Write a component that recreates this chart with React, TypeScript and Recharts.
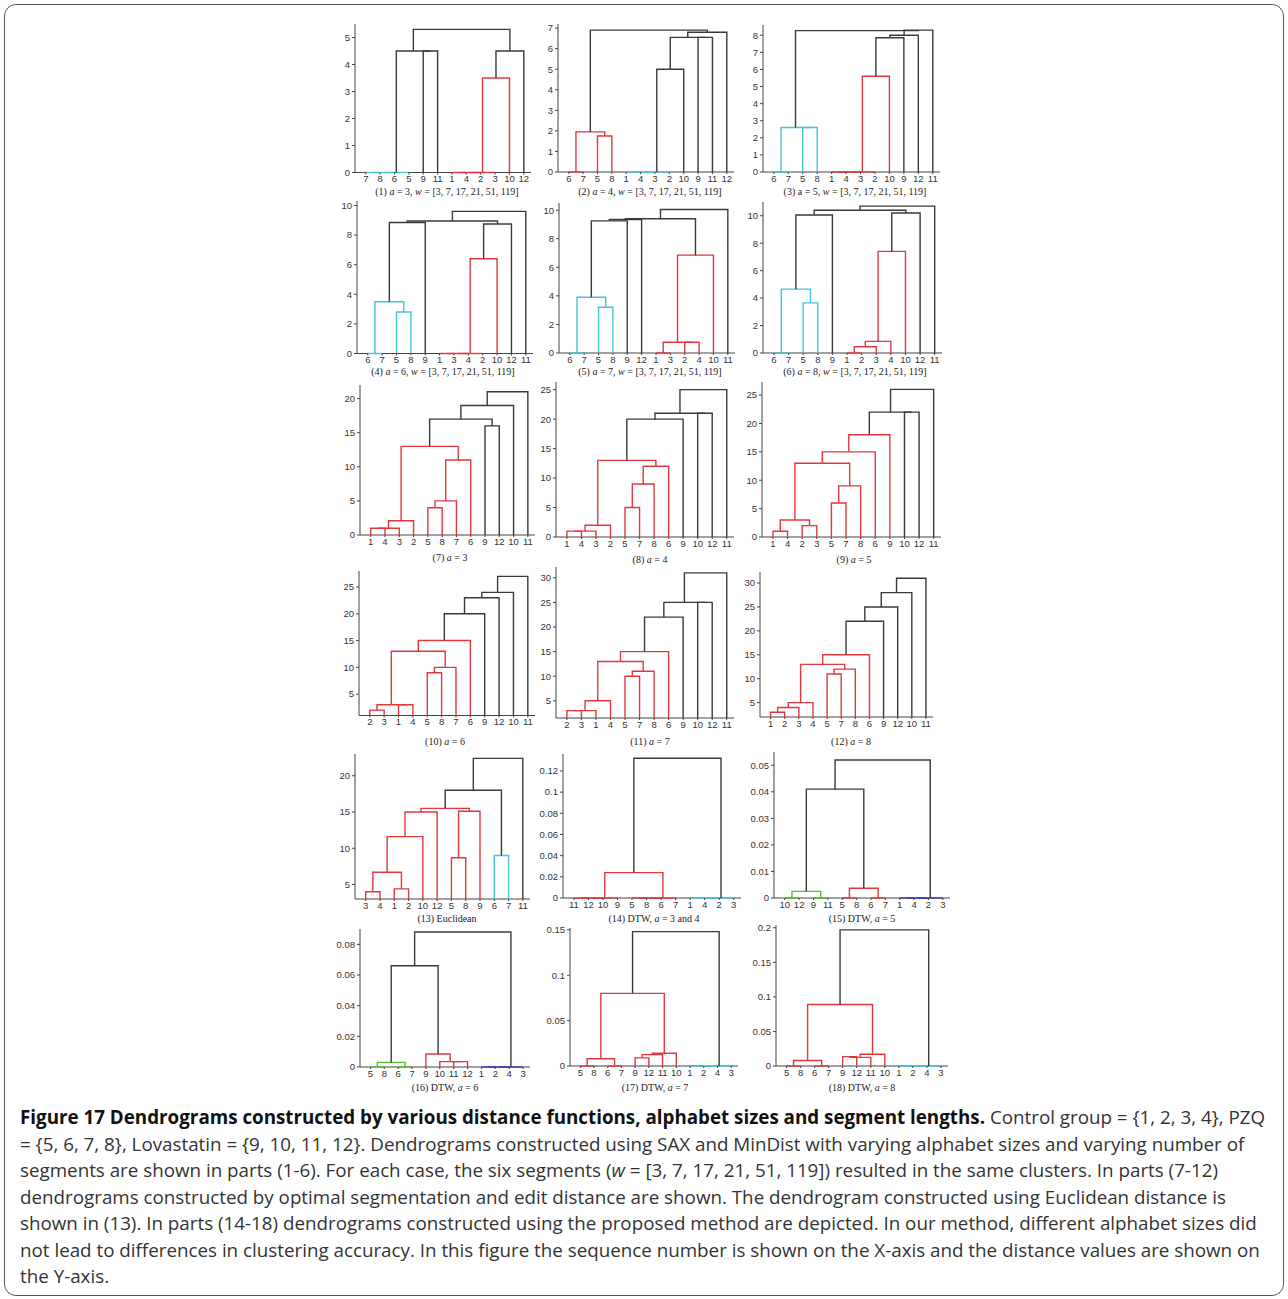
import React from 'react';
import { LineChart, Line, XAxis, YAxis } from 'recharts';

// [left child, right child, height, colour]; children 1..12 are leaves, 13+ are earlier merges
type Link = [number, number, number, string];

const order1 = [7, 8, 6, 5, 9, 11, 1, 4, 2, 3, 10, 12];
const links1: Link[] = [
  [7, 8, 0, 'c'], [13, 6, 0, 'c'], [14, 5, 0, 'c'], [1, 4, 0, 'r'], [16, 2, 0, 'r'], [17, 3, 0, 'r'],
  [18, 10, 3.5, 'r'], [9, 11, 4.5, 'k'], [15, 20, 4.5, 'k'], [19, 12, 4.5, 'k'], [21, 22, 5.3, 'k'],
];
const order2 = [6, 7, 5, 8, 1, 4, 3, 2, 10, 9, 11, 12];
const links2: Link[] = [
  [6, 7, 0, 'r'], [5, 8, 1.75, 'r'], [13, 14, 1.95, 'r'], [1, 4, 0, 'c'], [16, 3, 0, 'c'], [17, 2, 0, 'c'],
  [18, 10, 5.0, 'k'], [9, 11, 6.55, 'k'], [19, 20, 6.55, 'k'], [21, 12, 6.8, 'k'], [15, 22, 6.9, 'k'],
];
const order3 = [6, 7, 5, 8, 1, 4, 3, 2, 10, 9, 12, 11];
const links3: Link[] = [
  [6, 7, 0, 'c'], [5, 8, 2.6, 'c'], [13, 14, 2.6, 'c'], [1, 4, 0, 'r'], [16, 3, 0, 'r'], [17, 2, 0, 'r'],
  [18, 10, 5.6, 'r'], [19, 9, 7.85, 'k'], [20, 12, 8.0, 'k'], [21, 11, 8.3, 'k'], [15, 22, 8.27, 'k'],
];
const order4 = [6, 7, 5, 8, 9, 1, 3, 4, 2, 10, 12, 11];
const links4: Link[] = [
  [6, 7, 0, 'c'], [5, 8, 2.8, 'c'], [13, 14, 3.5, 'c'], [15, 9, 8.85, 'k'], [1, 3, 0, 'r'], [17, 4, 0, 'r'],
  [18, 2, 0, 'r'], [19, 10, 6.4, 'r'], [20, 12, 8.75, 'k'], [16, 21, 8.95, 'k'], [22, 11, 9.6, 'k'],
];
const order5 = [6, 7, 5, 8, 9, 12, 1, 3, 2, 4, 10, 11];
const links5: Link[] = [
  [6, 7, 0, 'c'], [5, 8, 3.2, 'c'], [13, 14, 3.9, 'c'], [15, 9, 9.25, 'k'], [16, 12, 9.35, 'k'], [1, 3, 0, 'r'],
  [2, 4, 0.75, 'r'], [18, 19, 0.75, 'r'], [20, 10, 6.85, 'r'], [17, 21, 9.4, 'k'], [22, 11, 10.05, 'k'],
];
const order6 = [6, 7, 5, 8, 9, 1, 2, 3, 4, 10, 12, 11];
const links6: Link[] = [
  [6, 7, 0, 'c'], [5, 8, 3.65, 'c'], [13, 14, 4.65, 'c'], [15, 9, 10.05, 'k'], [1, 2, 0, 'r'], [17, 3, 0.45, 'r'],
  [18, 4, 0.85, 'r'], [19, 10, 7.4, 'r'], [20, 12, 10.2, 'k'], [16, 21, 10.4, 'k'], [22, 11, 10.7, 'k'],
];
const order7 = [1, 4, 3, 2, 5, 8, 7, 6, 9, 12, 10, 11];
const links7: Link[] = [
  [1, 4, 1, 'r'], [13, 3, 1, 'r'], [14, 2, 2.1, 'r'], [5, 8, 4, 'r'], [16, 7, 5, 'r'], [17, 6, 11, 'r'],
  [15, 18, 13, 'r'], [9, 12, 16, 'k'], [19, 20, 17, 'k'], [21, 10, 19, 'k'], [22, 11, 21, 'k'],
];
const order8 = [1, 4, 3, 2, 5, 7, 8, 6, 9, 10, 12, 11];
const links8: Link[] = [
  [1, 4, 1, 'r'], [13, 3, 1, 'r'], [14, 2, 2, 'r'], [5, 7, 5, 'r'], [16, 8, 9, 'r'], [17, 6, 12, 'r'],
  [15, 18, 13, 'r'], [19, 9, 20, 'k'], [10, 12, 21, 'k'], [20, 21, 21, 'k'], [22, 11, 25, 'k'],
];
const order9 = [1, 4, 2, 3, 5, 7, 8, 6, 9, 10, 12, 11];
const links9: Link[] = [
  [1, 4, 1, 'r'], [2, 3, 2, 'r'], [13, 14, 3, 'r'], [5, 7, 6, 'r'], [16, 8, 9, 'r'], [15, 17, 13, 'r'],
  [18, 6, 15, 'r'], [19, 9, 18, 'r'], [10, 12, 22, 'k'], [20, 21, 22, 'k'], [22, 11, 26, 'k'],
];
const order10 = [2, 3, 1, 4, 5, 8, 7, 6, 9, 12, 10, 11];
const links10: Link[] = [
  [2, 3, 2, 'r'], [1, 4, 3, 'r'], [13, 14, 3, 'r'], [5, 8, 9, 'r'], [16, 7, 10, 'r'], [15, 17, 13, 'r'],
  [18, 6, 15, 'r'], [19, 9, 20, 'k'], [20, 12, 23, 'k'], [21, 10, 24, 'k'], [22, 11, 27, 'k'],
];
const order11 = [2, 3, 1, 4, 5, 7, 8, 6, 9, 10, 12, 11];
const links11: Link[] = [
  [2, 3, 3, 'r'], [13, 1, 3, 'r'], [14, 4, 5, 'r'], [5, 7, 10, 'r'], [16, 8, 11, 'r'], [15, 17, 13, 'r'],
  [18, 6, 15, 'r'], [19, 9, 22, 'k'], [10, 12, 25, 'k'], [20, 21, 25, 'k'], [22, 11, 31, 'k'],
];
const order12 = [1, 2, 3, 4, 5, 7, 8, 6, 9, 12, 10, 11];
const links12: Link[] = [
  [1, 2, 3, 'r'], [13, 3, 4, 'r'], [14, 4, 5, 'r'], [5, 7, 11, 'r'], [16, 8, 12, 'r'], [15, 17, 13, 'r'],
  [18, 6, 15, 'r'], [19, 9, 22, 'k'], [20, 12, 25, 'k'], [21, 10, 28, 'k'], [22, 11, 31, 'k'],
];
const order13 = [3, 4, 1, 2, 10, 12, 5, 8, 9, 6, 7, 11];
const links13: Link[] = [
  [3, 4, 4, 'r'], [1, 2, 4.4, 'r'], [13, 14, 6.7, 'r'], [15, 10, 11.6, 'r'], [16, 12, 15, 'r'], [5, 8, 8.7, 'r'],
  [18, 9, 15.1, 'r'], [17, 19, 15.5, 'r'], [6, 7, 9, 'c'], [20, 21, 18, 'k'], [22, 11, 22.4, 'k'],
];
const order14 = [11, 12, 10, 9, 5, 8, 6, 7, 1, 4, 2, 3];
const links14: Link[] = [
  [11, 12, 0, 'r'], [13, 10, 0, 'r'], [14, 9, 0, 'r'], [5, 8, 0, 'r'], [16, 6, 0, 'r'], [17, 7, 0, 'r'],
  [15, 18, 0.024, 'r'], [1, 4, 0, 'c'], [20, 2, 0, 'c'], [21, 3, 0, 'c'], [19, 22, 0.132, 'k'],
];
const order15 = [10, 12, 9, 11, 5, 8, 6, 7, 1, 4, 2, 3];
const links15: Link[] = [
  [10, 12, 0, 'g'], [9, 11, 0, 'g'], [13, 14, 0.0025, 'g'], [5, 8, 0, 'r'], [6, 7, 0, 'r'], [16, 17, 0.0037, 'r'],
  [1, 4, 0, 'b'], [19, 2, 0, 'b'], [20, 3, 0, 'b'], [15, 18, 0.041, 'k'], [22, 21, 0.052, 'k'],
];
const order16 = [5, 8, 6, 7, 9, 10, 11, 12, 1, 2, 4, 3];
const links16: Link[] = [
  [5, 8, 0, 'g'], [6, 7, 0, 'g'], [13, 14, 0.003, 'g'], [11, 12, 0.0035, 'r'], [10, 16, 0.0035, 'r'], [9, 17, 0.0085, 'r'],
  [1, 2, 0, 'b'], [19, 4, 0, 'b'], [20, 3, 0, 'b'], [15, 18, 0.066, 'k'], [22, 21, 0.088, 'k'],
];
const order17 = [5, 8, 6, 7, 9, 12, 11, 10, 1, 2, 4, 3];
const links17: Link[] = [
  [5, 8, 0, 'r'], [6, 7, 0, 'r'], [13, 14, 0.008, 'r'], [9, 12, 0.009, 'r'], [16, 11, 0.0125, 'r'], [17, 10, 0.014, 'r'],
  [15, 18, 0.08, 'r'], [1, 2, 0, 'c'], [20, 4, 0, 'c'], [21, 3, 0, 'c'], [19, 22, 0.148, 'k'],
];
const order18 = [5, 8, 6, 7, 9, 12, 11, 10, 1, 2, 4, 3];
const links18: Link[] = [
  [5, 8, 0, 'r'], [6, 7, 0, 'r'], [13, 14, 0.008, 'r'], [9, 12, 0.0135, 'r'], [16, 11, 0.0125, 'r'], [17, 10, 0.017, 'r'],
  [15, 18, 0.089, 'r'], [1, 2, 0, 'c'], [20, 4, 0, 'c'], [21, 3, 0, 'c'], [19, 22, 0.197, 'k'],
];

const ticksA = [0, 1, 2, 3, 4, 5];
const ticksB = [0, 1, 2, 3, 4, 5, 6, 7];
const ticksC = [0, 1, 2, 3, 4, 5, 6, 7, 8];
const ticksD = [0, 2, 4, 6, 8, 10];
const ticksE = [0, 5, 10, 15, 20];
const ticksF = [0, 5, 10, 15, 20, 25];
const ticksG = [5, 10, 15, 20, 25];
const ticksH = [5, 10, 15, 20, 25, 30];
const ticksI = [5, 10, 15, 20];
const ticksJ = [0, 0.02, 0.04, 0.06, 0.08, 0.1, 0.12];
const ticksK = [0, 0.01, 0.02, 0.03, 0.04, 0.05];
const ticksL = [0, 0.02, 0.04, 0.06, 0.08];
const ticksM = [0, 0.05, 0.1, 0.15];
const ticksN = [0, 0.05, 0.1, 0.15, 0.2];

const W_LIST = ', w = [3, 7, 17, 21, 51, 119]';
const captions = [
  '(1) a = 3' + W_LIST, '(2) a = 4' + W_LIST, '(3) A = 5' + W_LIST,
  '(4) a = 6' + W_LIST, '(5) a = 7' + W_LIST, '(6) a = 8' + W_LIST,
  '(7) a = 3', '(8) a = 4', '(9) a = 5',
  '(10) a = 6', '(11) a = 7', '(12) a = 8',
  '(13) Euclidean', '(14) DTW, a = 3 and 4', '(15) DTW, a = 5',
  '(16) DTW, a = 6', '(17) DTW, a = 7', '(18) DTW, a = 8',
];

const COLORS: Record<string, string> = {
  r: '#e2383c',
  c: '#46c5d5',
  k: '#3a3a3a',
  g: '#4fc234',
  b: '#3a3ab8',
};

const X_DOMAIN = [0.25, 12.5];

// layout: axis left/right, axis top, baseline, caption centre
const panels = [
  { order: order1, links: links1, dom: [0, 5.5], ticks: ticksA, L: 355, R: 531, T: 23.5, B: 172, cx: 447, cy: 192 },
  { order: order2, links: links2, dom: [0, 7.2], ticks: ticksB, L: 558, R: 734, T: 24, B: 172, cx: 650, cy: 192 },
  { order: order3, links: links3, dom: [0, 8.6], ticks: ticksC, L: 763, R: 940, T: 25, B: 172, cx: 855, cy: 192 },
  { order: order4, links: links4, dom: [0, 10.3], ticks: ticksD, L: 357, R: 533, T: 200.5, B: 353, cx: 443, cy: 372 },
  { order: order5, links: links5, dom: [0, 10.5], ticks: ticksD, L: 559, R: 735, T: 203, B: 353, cx: 650, cy: 372 },
  { order: order6, links: links6, dom: [0, 11], ticks: ticksD, L: 763, R: 942, T: 202, B: 353, cx: 855, cy: 372 },
  { order: order7, links: links7, dom: [0, 22], ticks: ticksE, L: 360, R: 535, T: 385, B: 535, cx: 450, cy: 558 },
  { order: order8, links: links8, dom: [0, 26.3], ticks: ticksF, L: 556, R: 734, T: 382, B: 537, cx: 650, cy: 560 },
  { order: order9, links: links9, dom: [0, 27.3], ticks: ticksF, L: 762, R: 941, T: 382, B: 537, cx: 854, cy: 560 },
  { order: order10, links: links10, dom: [1, 28], ticks: ticksG, L: 359, R: 535, T: 571, B: 715.5, cx: 445, cy: 742 },
  { order: order11, links: links11, dom: [1.5, 32.2], ticks: ticksH, L: 556, R: 734, T: 567, B: 718, cx: 650, cy: 742 },
  { order: order12, links: links12, dom: [2, 32.3], ticks: ticksH, L: 760, R: 933, T: 572, B: 717, cx: 851, cy: 742 },
  { order: order13, links: links13, dom: [3, 23], ticks: ticksI, L: 355, R: 530, T: 754, B: 899, cx: 447, cy: 919 },
  { order: order14, links: links14, dom: [0, 0.136], ticks: ticksJ, L: 563, R: 741, T: 754, B: 898, cx: 654, cy: 919 },
  { order: order15, links: links15, dom: [0, 0.055], ticks: ticksK, L: 774, R: 950, T: 752, B: 898, cx: 862, cy: 919 },
  { order: order16, links: links16, dom: [0, 0.09], ticks: ticksL, L: 360, R: 530, T: 929, B: 1067, cx: 445, cy: 1088 },
  { order: order17, links: links17, dom: [0, 0.152], ticks: ticksM, L: 570, R: 738, T: 928, B: 1066, cx: 655, cy: 1088 },
  { order: order18, links: links18, dom: [0, 0.204], ticks: ticksN, L: 776, R: 948, T: 925, B: 1066, cx: 862, cy: 1088 },
];

const LEAF_TICKS = [1, 2, 3, 4, 5, 6, 7, 8, 9, 10, 11, 12];

function buildTree(order: number[], links: Link[], base: number) {
  const n = order.length;
  const pos: Record<number, [number, number]> = {};
  order.forEach((leaf, i) => {
    pos[leaf] = [i + 1, base];
  });
  return links.map(([a, b, h, c], i) => {
    const [xa, ya] = pos[a];
    const [xb, yb] = pos[b];
    pos[n + 1 + i] = [(xa + xb) / 2, h];
    return {
      color: COLORS[c],
      pts: [
        { x: xa, y: ya },
        { x: xa, y: h },
        { x: xb, y: h },
        { x: xb, y: yb },
      ],
    };
  });
}

function Caption({ text }: { text: string }) {
  // italic for the single-letter symbols a and w; "A" marks the upright a of part (3)
  const parts = text.split(/\b([awA])\b/);
  return (
    <>
      {parts.map((p, i) =>
        p === 'a' || p === 'w' ? <i key={i}>{p}</i> : p === 'A' ? <span key={i}>a</span> : <span key={i}>{p}</span>
      )}
    </>
  );
}

const ML = 40;
const MT = 4;
const MR = 4;
const XH = 22;
const AXIS = '#444';
const tickFont = { fontSize: 9.5, fill: '#333', fontFamily: 'Liberation Sans, Arial, sans-serif' };

function Dendrogram({ p, idx }: { p: (typeof panels)[number]; idx: number }) {
  const segs = buildTree(p.order, p.links as Link[], p.dom[0]);
  // the x axis line is drawn as the first series so the zero-height links sit on top of it
  const baseLine = X_DOMAIN.map((x) => ({ x, y: p.dom[0] }));
  const w = p.R - p.L;
  const h = p.B - p.T;
  return (
    <>
      <div style={{ position: 'absolute', left: p.L - ML, top: p.T - MT }}>
        <LineChart width={ML + w + MR} height={MT + h + XH} margin={{ top: MT, right: MR, left: 0, bottom: 0 }}>
          <XAxis
            type="number"
            dataKey="x"
            domain={X_DOMAIN}
            ticks={LEAF_TICKS}
            interval={0}
            height={XH}
            axisLine={false}
            tickSize={2}
            tickMargin={1}
            stroke={AXIS}
            tick={tickFont}
            tickFormatter={(v: number) => String(p.order[Math.round(v) - 1])}
          />
          <YAxis
            type="number"
            domain={p.dom}
            ticks={p.ticks}
            interval={0}
            width={ML}
            tickSize={3}
            tickMargin={2}
            stroke={AXIS}
            tick={tickFont}
          />
          <Line
            data={baseLine}
            dataKey="y"
            type="linear"
            stroke={AXIS}
            strokeWidth={1}
            dot={false}
            activeDot={false}
            isAnimationActive={false}
          />
          {segs.map((s, i) => (
            <Line
              key={i}
              data={s.pts}
              dataKey="y"
              type="linear"
              stroke={s.color}
              strokeWidth={1.4}
              dot={false}
              activeDot={false}
              isAnimationActive={false}
            />
          ))}
        </LineChart>
      </div>
      <div
        style={{
          position: 'absolute',
          left: p.cx - 120,
          top: p.cy - 7,
          width: 240,
          textAlign: 'center',
          fontFamily: 'Liberation Serif, Times New Roman, serif',
          fontSize: 10,
          lineHeight: '14px',
          color: '#222',
          whiteSpace: 'nowrap',
        }}
      >
        <Caption text={captions[idx]} />
      </div>
    </>
  );
}

const captionLines = [
  [
    'Figure 17 Dendrograms constructed by various distance functions, alphabet sizes and segment lengths.',
    ' Control group = {1, 2, 3, 4}, PZQ',
  ],
  ['', '= {5, 6, 7, 8}, Lovastatin = {9, 10, 11, 12}. Dendrograms constructed using SAX and MinDist with varying alphabet sizes and varying number of'],
  ['', 'segments are shown in parts (1-6). For each case, the six segments (w = [3, 7, 17, 21, 51, 119]) resulted in the same clusters. In parts (7-12)'],
  ['', 'dendrograms constructed by optimal segmentation and edit distance are shown. The dendrogram constructed using Euclidean distance is'],
  ['', 'shown in (13). In parts (14-18) dendrograms constructed using the proposed method are depicted. In our method, different alphabet sizes did'],
  ['', 'not lead to differences in clustering accuracy. In this figure the sequence number is shown on the X-axis and the distance values are shown on'],
  ['', 'the Y-axis.'],
];

export default function App() {
  return (
    <div style={{ position: 'absolute', left: 0, top: 0, width: 1288, height: 1299, background: '#fff' }}>
      <div
        style={{
          position: 'absolute',
          left: 4,
          top: 4,
          width: 1278,
          height: 1290,
          border: '1.5px solid #555',
          borderRadius: 12,
        }}
      />
      {panels.map((p, i) => (
        <Dendrogram key={i} p={p} idx={i} />
      ))}
      <div
        style={{
          position: 'absolute',
          left: 20,
          top: 1104,
          width: 1262,
          fontFamily: 'Open Sans, sans-serif',
          fontSize: 18.8,
          lineHeight: '26.5px',
          color: '#333',
        }}
      >
        {captionLines.map(([bold, rest], i) => (
          <div key={i} style={{ whiteSpace: 'nowrap' }}>
            {bold && <b style={{ color: '#111' }}>{bold}</b>}
            {rest.includes('(w =') ? (
              <>
                {rest.split('(w =')[0]}(<i>w</i> ={rest.split('(w =')[1]}
              </>
            ) : (
              rest
            )}
          </div>
        ))}
      </div>
    </div>
  );
}
